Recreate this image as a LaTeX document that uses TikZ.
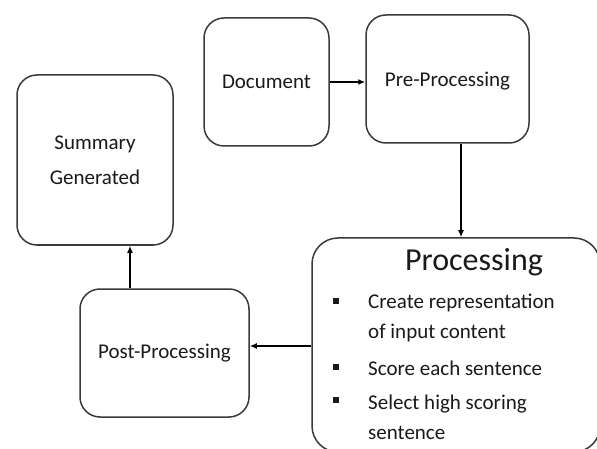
\documentclass[tikz,border=0pt]{standalone}
\usepackage{fontspec}
\setmainfont{Carlito}
\usetikzlibrary{arrows.meta}
\definecolor{edge}{HTML}{3A3A3A}
\definecolor{ink}{HTML}{1A1A1A}
\tikzset{
  box/.style={draw=edge, line width=1.5pt, rounded corners=20pt, fill=white,
    text=ink, align=center, inner sep=0pt,
    font=\fontsize{21}{35}\selectfont},
  flow/.style={draw=black, line width=2.6pt, -{Latex[length=7pt,width=6pt]}},
  itemtext/.style={anchor=west, align=left, text=ink, inner sep=0pt,
    font=\fontsize{21}{30}\selectfont},
  bulletsq/.style={fill=ink, minimum size=5.5pt, inner sep=0pt},
}
\begin{document}
\begin{tikzpicture}[x=1pt, y=-1pt]
  \useasboundingbox (0,0) rectangle (597,449);
  \clip (0,0) rectangle (597,449);
  \fill[white] (0,0) rectangle (597,449);

  % process stages
  \node[box, minimum width=125pt, minimum height=128pt] (doc) at (266.5,82) {Document};
  \node[box, minimum width=163pt, minimum height=128pt, text depth=0pt] (pre) at (447.5,79) {Pre-Processing};
  \node[box, minimum width=156pt, minimum height=170pt] (sum) at (95,160) {Summary\\Generated};
  \node[box, minimum width=169pt, minimum height=128pt] (post) at (164.5,353) {Post-Processing};
  \node[box, rounded corners=26pt, minimum width=288pt, minimum height=214pt] (proc) at (456,345) {};

  % contents of the processing stage
  \node[text=ink, inner sep=0pt, font=\fontsize{32}{38}\selectfont] (title) at (474,262) {Processing};
  \node[bulletsq] (b1) at (336,301) {};
  \node[bulletsq] (b2) at (336,367) {};
  \node[bulletsq] (b3) at (336,400) {};
  \node[itemtext] (i1) at (368,318) {Create representation\\of input content};
  \node[itemtext] (i2) at (368,368) {Score each sentence};
  \node[itemtext] (i3) at (368,417) {Select high scoring\\sentence};

  % flow between stages
  \draw[flow] (doc.east) -- (pre.west |- doc.east);
  \draw[flow] (pre.south -| 461,0) -- (proc.north -| 461,0);
  \draw[flow] (proc.west |- 0,346) -- (post.east |- 0,346);
  \draw[flow] (post.north -| 130,0) -- (sum.south -| 130,0);
\end{tikzpicture}
\end{document}
